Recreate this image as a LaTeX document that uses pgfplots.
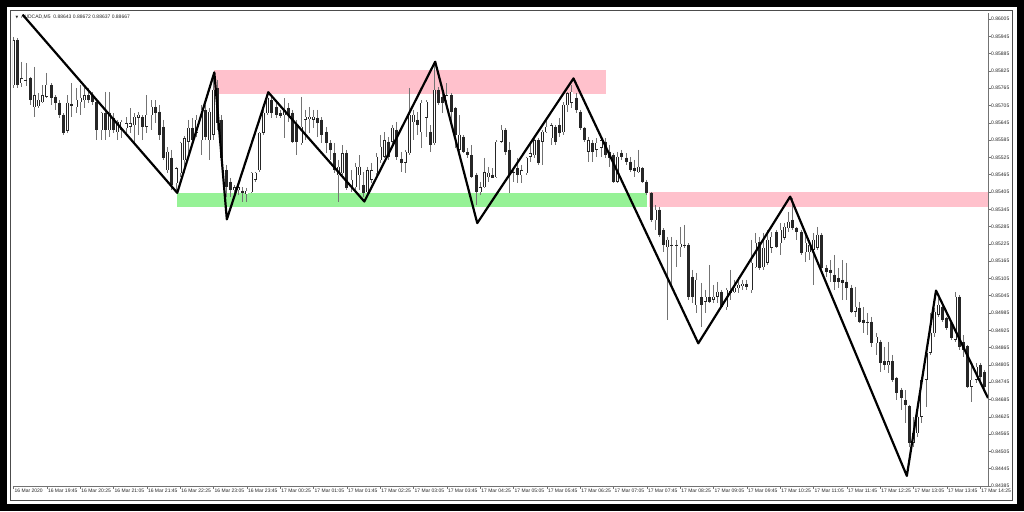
\documentclass[border=0pt]{standalone}
\usepackage{fontspec}
\setmainfont{Liberation Sans}
\newfontfamily\dejavu{DejaVu Sans}
\usepackage{pgfplots}
\pgfplotsset{compat=1.18}
\usepackage{pgfplotstable}
\definecolor{zonepink}{RGB}{255,193,204}
\definecolor{zonegreen}{RGB}{150,242,150}

\pgfplotstableread{
i o h l c
0 0.85776 0.85943 0.85766 0.85932
1 0.85932 0.85939 0.85766 0.85776
2 0.85783 0.85856 0.85769 0.85800
3 0.85794 0.85852 0.85773 0.85790
4 0.85800 0.85804 0.85707 0.85724
5 0.85700 0.85839 0.85665 0.85741
6 0.85703 0.85748 0.85696 0.85724
7 0.85717 0.85776 0.85714 0.85741
8 0.85735 0.85818 0.85731 0.85776
9 0.85776 0.85783 0.85707 0.85731
10 0.85735 0.85741 0.85690 0.85714
11 0.85714 0.85724 0.85662 0.85672
12 0.85672 0.85679 0.85603 0.85610
13 0.85617 0.85741 0.85610 0.85714
14 0.85710 0.85783 0.85665 0.85703
15 0.85700 0.85766 0.85679 0.85724
16 0.85717 0.85776 0.85672 0.85731
17 0.85724 0.85776 0.85696 0.85741
18 0.85741 0.85766 0.85714 0.85724
19 0.85741 0.85752 0.85707 0.85717
20 0.85717 0.85724 0.85585 0.85620
21 0.85620 0.85683 0.85585 0.85679
22 0.85679 0.85752 0.85585 0.85620
23 0.85620 0.85752 0.85596 0.85679
24 0.85662 0.85679 0.85610 0.85620
25 0.85613 0.85655 0.85585 0.85648
26 0.85620 0.85655 0.85592 0.85648
27 0.85627 0.85665 0.85603 0.85644
28 0.85631 0.85696 0.85610 0.85644
29 0.85637 0.85679 0.85579 0.85665
30 0.85662 0.85683 0.85603 0.85672
31 0.85665 0.85672 0.85585 0.85631
32 0.85631 0.85741 0.85610 0.85672
33 0.85672 0.85724 0.85620 0.85700
34 0.85700 0.85724 0.85644 0.85679
35 0.85683 0.85707 0.85585 0.85603
36 0.85631 0.85655 0.85516 0.85523
37 0.85481 0.85561 0.85471 0.85544
38 0.85523 0.85551 0.85412 0.85429
39 0.85436 0.85492 0.85412 0.85488
40 0.85471 0.85580 0.85457 0.85575
41 0.85516 0.85600 0.85471 0.85592
42 0.85579 0.85655 0.85540 0.85627
43 0.85627 0.85662 0.85575 0.85585
44 0.85610 0.85672 0.85596 0.85655
45 0.85585 0.85707 0.85533 0.85690
46 0.85690 0.85707 0.85585 0.85596
47 0.85585 0.85696 0.85516 0.85683
48 0.85603 0.85814 0.85585 0.85759
49 0.85766 0.85794 0.85620 0.85644
50 0.85655 0.85672 0.85509 0.85523
51 0.85481 0.85499 0.85388 0.85422
52 0.85440 0.85454 0.85388 0.85412
53 0.85412 0.85429 0.85402 0.85422
54 0.85412 0.85436 0.85395 0.85422
55 0.85409 0.85422 0.85370 0.85402
56 0.85398 0.85419 0.85370 0.85409
57 0.85405 0.85474 0.85402 0.85471
58 0.85447 0.85474 0.85440 0.85471
59 0.85481 0.85613 0.85474 0.85610
60 0.85610 0.85696 0.85603 0.85679
61 0.85679 0.85752 0.85672 0.85731
62 0.85724 0.85741 0.85662 0.85679
63 0.85700 0.85724 0.85662 0.85672
64 0.85679 0.85690 0.85662 0.85669
65 0.85672 0.85731 0.85592 0.85690
66 0.85696 0.85714 0.85648 0.85672
67 0.85679 0.85690 0.85575 0.85579
68 0.85637 0.85655 0.85533 0.85579
69 0.85575 0.85735 0.85568 0.85631
70 0.85655 0.85690 0.85585 0.85665
71 0.85658 0.85700 0.85610 0.85665
72 0.85655 0.85690 0.85627 0.85665
73 0.85662 0.85690 0.85596 0.85644
74 0.85655 0.85665 0.85575 0.85603
75 0.85613 0.85631 0.85540 0.85575
76 0.85575 0.85585 0.85516 0.85551
77 0.85540 0.85575 0.85471 0.85481
78 0.85464 0.85516 0.85370 0.85492
79 0.85471 0.85568 0.85464 0.85540
80 0.85540 0.85551 0.85412 0.85419
81 0.85422 0.85481 0.85405 0.85447
82 0.85422 0.85506 0.85405 0.85492
83 0.85464 0.85533 0.85412 0.85492
84 0.85429 0.85474 0.85388 0.85402
85 0.85405 0.85492 0.85402 0.85481
86 0.85447 0.85506 0.85436 0.85481
87 0.85471 0.85540 0.85464 0.85527
88 0.85516 0.85603 0.85506 0.85561
89 0.85527 0.85613 0.85523 0.85585
90 0.85579 0.85596 0.85516 0.85527
91 0.85579 0.85637 0.85568 0.85627
92 0.85620 0.85648 0.85516 0.85527
93 0.85520 0.85544 0.85474 0.85506
94 0.85506 0.85551 0.85471 0.85544
95 0.85540 0.85766 0.85533 0.85672
96 0.85648 0.85690 0.85585 0.85672
97 0.85655 0.85683 0.85603 0.85637
98 0.85613 0.85724 0.85558 0.85714
99 0.85662 0.85724 0.85596 0.85717
100 0.85613 0.85637 0.85544 0.85568
101 0.85575 0.85846 0.85568 0.85759
102 0.85759 0.85769 0.85707 0.85714
103 0.85735 0.85766 0.85679 0.85714
104 0.85724 0.85783 0.85707 0.85741
105 0.85741 0.85748 0.85648 0.85683
106 0.85696 0.85700 0.85558 0.85603
107 0.85551 0.85672 0.85544 0.85603
108 0.85596 0.85603 0.85540 0.85544
109 0.85544 0.85558 0.85523 0.85533
110 0.85533 0.85568 0.85454 0.85457
111 0.85464 0.85471 0.85360 0.85405
112 0.85405 0.85440 0.85395 0.85422
113 0.85422 0.85523 0.85419 0.85474
114 0.85457 0.85492 0.85440 0.85471
115 0.85464 0.85488 0.85454 0.85454
116 0.85457 0.85585 0.85454 0.85579
117 0.85579 0.85637 0.85575 0.85620
118 0.85620 0.85627 0.85533 0.85544
119 0.85551 0.85579 0.85402 0.85464
120 0.85471 0.85492 0.85440 0.85474
121 0.85488 0.85523 0.85436 0.85464
122 0.85464 0.85499 0.85436 0.85481
123 0.85471 0.85527 0.85464 0.85523
124 0.85527 0.85579 0.85509 0.85540
125 0.85533 0.85592 0.85523 0.85585
126 0.85585 0.85592 0.85499 0.85506
127 0.85579 0.85620 0.85499 0.85613
128 0.85613 0.85655 0.85610 0.85631
129 0.85592 0.85644 0.85568 0.85637
130 0.85631 0.85637 0.85568 0.85579
131 0.85637 0.85662 0.85596 0.85610
132 0.85613 0.85717 0.85603 0.85707
133 0.85707 0.85752 0.85683 0.85748
134 0.85714 0.85776 0.85696 0.85752
135 0.85731 0.85748 0.85679 0.85690
136 0.85683 0.85690 0.85620 0.85627
137 0.85627 0.85631 0.85579 0.85585
138 0.85544 0.85596 0.85509 0.85585
139 0.85575 0.85585 0.85509 0.85544
140 0.85551 0.85592 0.85527 0.85575
141 0.85558 0.85596 0.85527 0.85585
142 0.85579 0.85592 0.85523 0.85533
143 0.85544 0.85568 0.85492 0.85523
144 0.85533 0.85540 0.85436 0.85440
145 0.85440 0.85544 0.85436 0.85527
146 0.85540 0.85551 0.85516 0.85527
147 0.85523 0.85540 0.85499 0.85509
148 0.85509 0.85527 0.85474 0.85481
149 0.85488 0.85516 0.85457 0.85478
150 0.85474 0.85551 0.85471 0.85492
151 0.85488 0.85492 0.85436 0.85440
152 0.85440 0.85447 0.85395 0.85402
153 0.85402 0.85405 0.85301 0.85308
154 0.85308 0.85360 0.85273 0.85343
155 0.85343 0.85353 0.85249 0.85256
156 0.85273 0.85280 0.85197 0.85221
157 0.85214 0.85249 0.84961 0.85239
158 0.85221 0.85249 0.85076 0.85218
159 0.85218 0.85239 0.85145 0.85221
160 0.85214 0.85284 0.85180 0.85225
161 0.85218 0.85291 0.85211 0.85221
162 0.85221 0.85228 0.85031 0.85041
163 0.85110 0.85135 0.85020 0.85041
164 0.85013 0.85124 0.84986 0.85100
165 0.85038 0.85090 0.84937 0.85013
166 0.85024 0.85065 0.84986 0.85041
167 0.85038 0.85152 0.85020 0.85024
168 0.85031 0.85083 0.85020 0.85041
169 0.85041 0.85093 0.85020 0.85058
170 0.85058 0.85065 0.85003 0.85006
171 0.85006 0.85072 0.84996 0.85065
172 0.85062 0.85135 0.85031 0.85055
173 0.85058 0.85100 0.85055 0.85072
174 0.85072 0.85110 0.85055 0.85083
175 0.85079 0.85100 0.85065 0.85086
176 0.85086 0.85100 0.85065 0.85076
177 0.85065 0.85239 0.85055 0.85159
178 0.85145 0.85263 0.85142 0.85228
179 0.85232 0.85249 0.85135 0.85142
180 0.85145 0.85263 0.85135 0.85211
181 0.85159 0.85273 0.85152 0.85239
182 0.85211 0.85266 0.85194 0.85249
183 0.85266 0.85273 0.85211 0.85214
184 0.85228 0.85298 0.85187 0.85273
185 0.85246 0.85298 0.85239 0.85284
186 0.85280 0.85336 0.85266 0.85301
187 0.85308 0.85385 0.85273 0.85280
188 0.85280 0.85284 0.85239 0.85266
189 0.85266 0.85273 0.85187 0.85194
190 0.85197 0.85256 0.85162 0.85228
191 0.85197 0.85239 0.85169 0.85221
192 0.85204 0.85263 0.85083 0.85239
193 0.85211 0.85284 0.85204 0.85256
194 0.85256 0.85263 0.85135 0.85142
195 0.85142 0.85152 0.85110 0.85128
196 0.85135 0.85169 0.85093 0.85124
197 0.85117 0.85187 0.85065 0.85093
198 0.85107 0.85142 0.85072 0.85093
199 0.85100 0.85169 0.85031 0.85090
200 0.85093 0.85159 0.85031 0.85072
201 0.85072 0.85083 0.84986 0.84989
202 0.84989 0.85076 0.84972 0.85006
203 0.85003 0.85024 0.84951 0.84954
204 0.84961 0.85006 0.84916 0.84951
205 0.84951 0.84986 0.84909 0.84954
206 0.84954 0.84972 0.84868 0.84881
207 0.84881 0.84916 0.84840 0.84902
208 0.84885 0.84892 0.84781 0.84812
209 0.84816 0.84868 0.84788 0.84805
210 0.84805 0.84885 0.84777 0.84816
211 0.84816 0.84840 0.84746 0.84753
212 0.84760 0.84764 0.84684 0.84708
213 0.84718 0.84725 0.84649 0.84691
214 0.84684 0.84718 0.84604 0.84667
215 0.84660 0.84667 0.84521 0.84535
216 0.84535 0.84625 0.84521 0.84569
217 0.84569 0.84649 0.84556 0.84625
218 0.84625 0.84764 0.84604 0.84753
219 0.84753 0.84868 0.84660 0.84847
220 0.84847 0.84986 0.84840 0.84916
221 0.84916 0.85003 0.84902 0.84989
222 0.84979 0.85038 0.84972 0.85013
223 0.85006 0.85020 0.84954 0.84961
224 0.84968 0.84972 0.84927 0.84934
225 0.84951 0.84954 0.84892 0.84899
226 0.84892 0.85058 0.84885 0.85041
227 0.85041 0.85048 0.84857 0.84868
228 0.84885 0.84909 0.84833 0.84857
229 0.84868 0.84875 0.84725 0.84729
230 0.84729 0.84812 0.84677 0.84753
231 0.84753 0.84812 0.84743 0.84798
232 0.84805 0.84812 0.84743 0.84764
233 0.84781 0.84788 0.84718 0.84729
}\candles

\pgfplotstableread{
x y
2.2 0.86020
39.3 0.85402
48.2 0.85820
51.2 0.85310
61.15 0.85751
84.2 0.85372
101.2 0.85857
111.3 0.85297
134.4 0.85799
164.35 0.84880
186.4 0.85389
214.4 0.84420
221.4 0.85063
233.88 0.84690
}\zigzag

\begin{document}
\begin{tikzpicture}[x=1pt,y=1pt]
\useasboundingbox (0,0) rectangle (1024,511);
\fill[black] (0,0) rectangle (1024,511);
\fill[white] (7,7.5) rectangle (1016.5,504);
\draw[black!70, line width=1.3pt] (10.3,10.8) rectangle (1012.8,500.7);
\node[anchor=west, inner sep=0pt, font=\fontsize{5}{6}\selectfont, text=black!85] at (15.5,494)
  {{\dejavu\fontsize{3.5}{4}\selectfont ▼}\ \ AUDCAD,M5\ \ 0.88643 0.88672 0.88637 0.88667};
\begin{axis}[
  at={(13pt,25pt)}, anchor=south west,
  scale only axis, width=975pt, height=473pt,
  xmin=-0.12, xmax=233.88, ymin=0.84385, ymax=0.86026,
  axis x line*=bottom, axis y line*=right,
  axis line style={-, draw=black!55, line width=0.8pt},
  tick align=outside, major tick length=2.5pt,
  tick style={draw=black!55, line width=0.6pt},
  xtick={0,8,...,232},
  xticklabels={16 Mar 2020, 16 Mar 19:45, 16 Mar 20:25, 16 Mar 21:05, 16 Mar 21:45, 16 Mar 22:25, 16 Mar 23:05, 16 Mar 23:45, 17 Mar 00:25, 17 Mar 01:05, 17 Mar 01:45, 17 Mar 02:25, 17 Mar 03:05, 17 Mar 03:45, 17 Mar 04:25, 17 Mar 05:05, 17 Mar 05:45, 17 Mar 06:25, 17 Mar 07:05, 17 Mar 07:45, 17 Mar 08:25, 17 Mar 09:05, 17 Mar 09:45, 17 Mar 10:25, 17 Mar 11:05, 17 Mar 11:45, 17 Mar 12:25, 17 Mar 13:05, 17 Mar 13:45, 17 Mar 14:25},
  ytick={0.86005,0.85945,0.85885,0.85825,0.85765,0.85705,0.85645,0.85585,0.85525,0.85465,0.85405,0.85345,0.85285,0.85225,0.85165,0.85105,0.85045,0.84985,0.84925,0.84865,0.84805,0.84745,0.84685,0.84625,0.84565,0.84505,0.84445,0.84385},
  yticklabels={0.86005,0.85945,0.85885,0.85825,0.85765,0.85705,0.85645,0.85585,0.85525,0.85465,0.85405,0.85345,0.85285,0.85225,0.85165,0.85105,0.85045,0.84985,0.84925,0.84865,0.84805,0.84745,0.84685,0.84625,0.84565,0.84505,0.84445,0.84385},
  scaled y ticks=false,
  ticklabel style={font=\fontsize{5}{6}\selectfont, text=black!85, inner sep=0pt},
  xticklabel style={anchor=north west, xshift=1pt, yshift=-0.5pt},
  yticklabel style={anchor=west, xshift=0.5pt},
]
% zones
\addplot[fill=zonepink, draw=none, forget plot] coordinates {(48.2,0.85828) (142.2,0.85828) (142.2,0.85745) (48.2,0.85745)} -- cycle;
\addplot[fill=zonegreen, draw=none, forget plot] coordinates {(39.2,0.85403) (152.0,0.85403) (152.0,0.85354) (39.2,0.85354)} -- cycle;
\addplot[fill=zonepink, draw=none, forget plot] coordinates {(152.5,0.85404) (233.88,0.85404) (233.88,0.85354) (152.5,0.85354)} -- cycle;
% wicks
\addplot[draw=none, mark=none, forget plot, error bars/.cd, y dir=minus, y explicit, error mark=none,
  error bar style={draw=black!55, line width=0.8pt, solid}]
  table[x=i, y=h, y error minus expr={\thisrow{h}-\thisrow{l}}] {\candles};
% bodies
\addplot[draw=none, mark=none, forget plot, error bars/.cd, y dir=minus, y explicit, error mark=none,
  error bar style={draw=black!85, line width=3pt, solid}]
  table[x=i, y expr={max(\thisrow{o},\thisrow{c})+0.00001}, y error minus expr={abs(\thisrow{o}-\thisrow{c})+0.00002}] {\candles};
% white inner of bullish bodies
\addplot[draw=none, mark=none, forget plot, error bars/.cd, y dir=minus, y explicit, error mark=none,
  error bar style={draw=white, line width=1.5pt, solid}]
  table[x=i, y expr={\thisrow{c}-0.000015}, y error minus expr={max(\thisrow{c}-\thisrow{o}-0.00003,0)}] {\candles};
% zigzag
\addplot[black, line width=2.2pt, mark=none, line join=round] table[x=x, y=y] {\zigzag};
\end{axis}
\end{tikzpicture}
\end{document}
